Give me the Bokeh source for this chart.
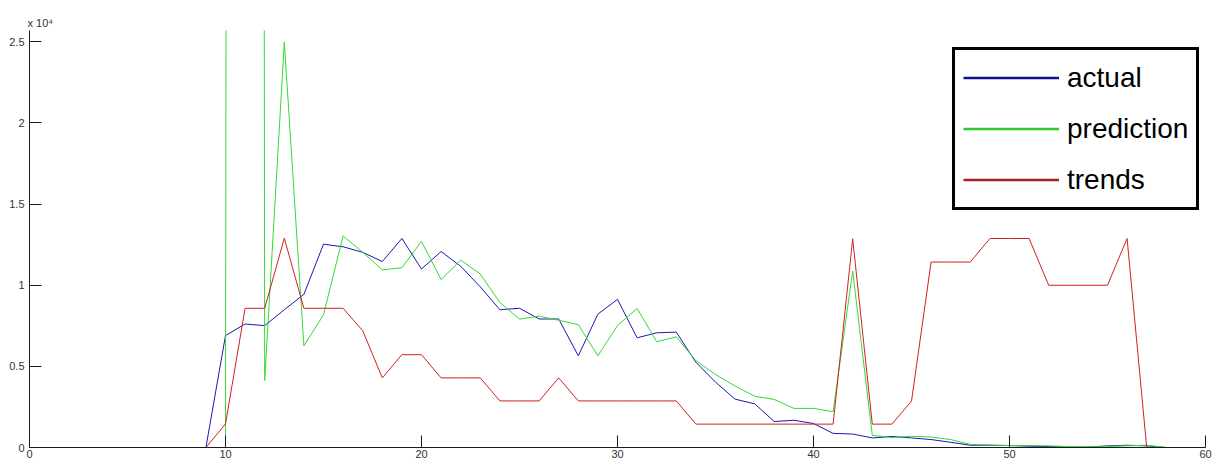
from bokeh.plotting import figure
from bokeh.models import Range1d, Legend, LegendItem, FixedTicker, ColumnDataSource
from bokeh.embed import file_html
from bokeh.resources import INLINE

# ---- data ----
x_actual = list(range(9, 59))
actual = [0, 6900, 7610, 7510, 8490, 9440, 12530, 12370, 12030, 11460,
          12880, 11000, 12080, 11170, 9900, 8490, 8580, 7920, 7920, 5650,
          8220, 9130, 6760, 7070, 7110, 5250, 4030, 2980, 2690, 1600,
          1680, 1480, 870, 830, 590, 680, 590, 490, 320, 140,
          140, 120, 80, 60, 30, 30, 100, 140, 100, 0]

x_prediction = list(range(10, 59))
prediction = [0, 1000000, 4130, 24990, 6260, 8180, 13040, 12030, 10950, 11080,
              12700, 10350, 11550, 10690, 8940, 7910, 8100, 7840, 7570, 5650,
              7520, 8570, 6520, 6820, 5350, 4500, 3790, 3160, 2960, 2410,
              2410, 2210, 10870, 750, 610, 690, 650, 490, 190, 150,
              120, 120, 100, 60, 40, 60, 100, 140, 0]

x_trends = list(range(9, 58))
trends = [0, 1450, 8580, 8580, 12900, 8580, 8580, 8580, 7200, 4290,
          5720, 5720, 4290, 4290, 4290, 2870, 2870, 2870, 4290, 2870,
          2870, 2870, 2870, 2870, 2870, 1440, 1440, 1440, 1440, 1440,
          1440, 1440, 1440, 12860, 1440, 1440, 2860, 11430, 11430, 11430,
          12880, 12880, 12880, 10000, 10000, 10000, 10000, 12880, 0]

series_names = ["actual", "prediction", "trends"]
x_ticks = [0, 10, 20, 30, 40, 50, 60]
y_ticks = [0, 5000, 10000, 15000, 20000, 25000]
y_tick_labels = ["0", "0.5", "1", "1.5", "2", "2.5"]
exponent_label = "x 10\u2074"

BLUE = "#1818b0"
GREEN = "#34d834"
RED = "#d02020"

p = figure(frame_width=1176, frame_height=417,
           x_range=Range1d(0, 60), y_range=Range1d(0, 25700),
           output_backend="svg", toolbar_location=None,
           min_border_left=29, min_border_top=30,
           min_border_right=7, min_border_bottom=13,
           background_fill_color="white", border_fill_color="white")
p.outline_line_color = None
p.grid.visible = False

p.title.text = exponent_label
p.title.align = "left"
p.title.offset = -2
p.title.standoff = 3
p.title.text_font = "Liberation Sans"
p.title.text_font_size = "11px"
p.title.text_font_style = "normal"
p.title.text_color = "#333333"

for ax in (p.xaxis[0], p.yaxis[0]):
    ax.axis_line_color = "#1a1a1a"
    ax.axis_line_width = 1
    ax.major_tick_line_color = "#1a1a1a"
    ax.major_tick_in = 12
    ax.major_tick_out = 0
    ax.minor_tick_line_color = None
    ax.major_label_text_font = "Liberation Sans"
    ax.major_label_text_font_size = "11px"
    ax.major_label_text_color = "#333333"

p.xaxis.ticker = FixedTicker(ticks=x_ticks)
p.xaxis.major_label_standoff = 2
p.yaxis.ticker = FixedTicker(ticks=y_ticks)
p.yaxis.major_label_overrides = {t: l for t, l in zip(y_ticks, y_tick_labels)}
p.yaxis.major_label_standoff = 5

ra = p.line(x_actual, actual, line_color=BLUE, line_width=1)
rp = p.line(x_prediction, prediction, line_color=GREEN, line_width=1)
rt = p.line(x_trends, trends, line_color=RED, line_width=1)

# legend proxies (thicker strokes like the reference legend); NaN -> nothing in the plot
nan = float("nan")
la = p.line("x", "y", source=ColumnDataSource(dict(x=[nan], y=[nan])), line_color="#10108a", line_width=2.5)
lp = p.line("x", "y", source=ColumnDataSource(dict(x=[nan], y=[nan])), line_color="#30c830", line_width=2.5)
lt = p.line("x", "y", source=ColumnDataSource(dict(x=[nan], y=[nan])), line_color="#a82020", line_width=2.5)

legend = Legend(items=[LegendItem(label=series_names[0], renderers=[la]),
                       LegendItem(label=series_names[1], renderers=[lp]),
                       LegendItem(label=series_names[2], renderers=[lt])],
                location=(923, 237), margin=0, padding=8,
                glyph_width=96, glyph_height=39, label_height=39,
                spacing=12, label_standoff=8,
                label_text_font="Liberation Sans",
                label_text_font_size="28px", label_text_color="black",
                border_line_color="black", border_line_width=3, border_line_alpha=1.0,
                background_fill_color="white", background_fill_alpha=1.0)
p.add_layout(legend)

open("out.html", "w").write(file_html(p, INLINE))
